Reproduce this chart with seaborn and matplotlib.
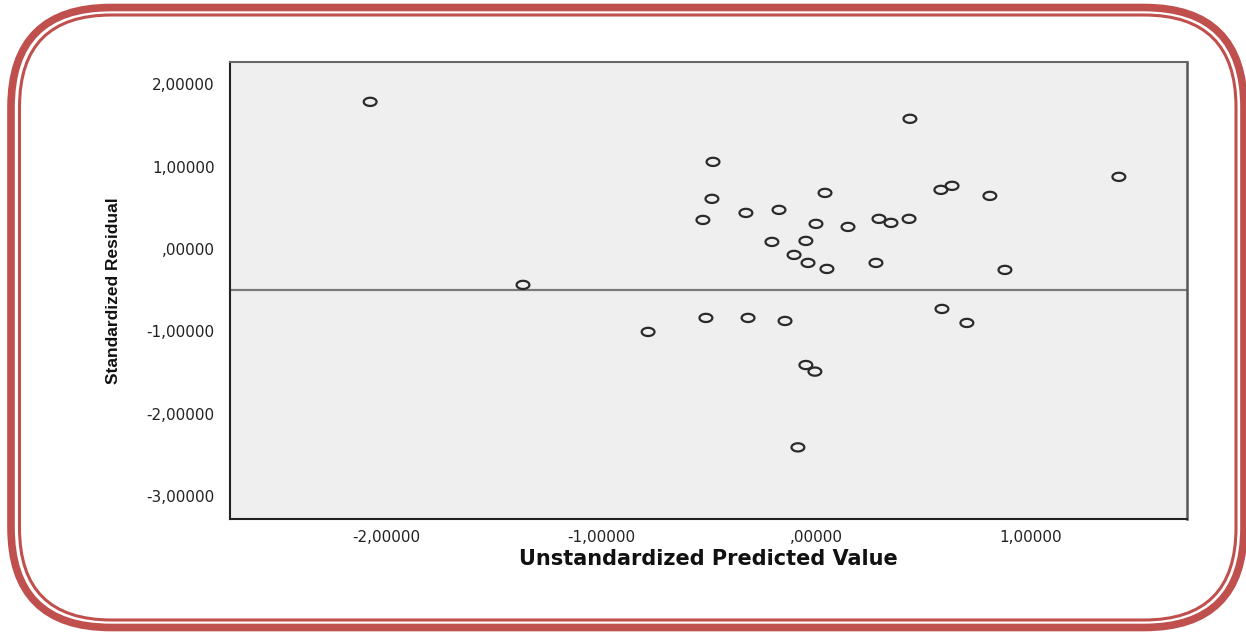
import numpy as np
import pandas as pd
import seaborn as sns
import matplotlib
matplotlib.use("Agg")
import matplotlib.pyplot as plt
from matplotlib.path import Path
from matplotlib.patches import FancyBboxPatch
from matplotlib.transforms import Affine2D

# ---- data ----
predicted = [-2.074, -1.363, -0.781, -0.479, -0.484, -0.526, -0.512, -0.326, -0.316,
             -0.172, -0.205, -0.144, -0.102, -0.047, -0.037, 0.000, 0.042, 0.051,
             -0.047, -0.005, -0.084, 0.149, 0.279, 0.293, 0.349, 0.437, 0.433,
             0.581, 0.633, 0.586, 0.702, 0.809, 0.879, 1.409]
residual = [1.786, -0.437, -1.008, 1.057, 0.608, 0.352, -0.838, 0.437, -0.838,
            0.474, 0.085, -0.875, -0.073, 0.097, -0.170, 0.304, 0.680, -0.243,
            -1.410, -1.490, -2.410, 0.267, -0.170, 0.365, 0.316, 1.580, 0.365,
            0.717, 0.766, -0.729, -0.899, 0.644, -0.255, 0.875]
ref_line = -0.5
x_ticks = [-2, -1, 0, 1]
x_tick_labels = ["-2,00000", "-1,00000", ",00000", "1,00000"]
y_ticks = [2, 1, 0, -1, -2, -3]
y_tick_labels = ["2,00000", "1,00000", ",00000", "-1,00000", "-2,00000", "-3,00000"]
x_label = "Unstandardized Predicted Value"
y_label = "Standardized Residual"

df = pd.DataFrame({"pred": predicted, "resid": residual})

W, H = 1246, 633
sns.set_style("white")
plt.rcParams["font.family"] = ["DejaVu Sans"]

fig = plt.figure(figsize=(W / 100, H / 100), dpi=100)
fig.patch.set_facecolor("white")
ax = fig.add_axes([230 / W, 1 - 519 / H, (1187 - 230) / W, (519 - 62) / H])
ax.set_facecolor("#EFEFEF")

# elliptical open marker
t = np.linspace(0, 2 * np.pi, 60)
ell = Path(np.column_stack([np.cos(t), 0.64 * np.sin(t)]), closed=True)

sns.scatterplot(data=df, x="pred", y="resid", ax=ax, marker=ell, s=85,
                facecolor="none", edgecolor="#2A2A2A", linewidth=1.6, zorder=3)
ax.axhline(ref_line, color="#7A7A7A", lw=1.6, zorder=2)

ax.set_xlim(-2.726, 1.726)
ax.set_ylim(-3.28, 2.27)
ax.set_xticks(x_ticks)
ax.set_xticklabels(x_tick_labels)
ax.set_yticks(y_ticks)
ax.set_yticklabels(y_tick_labels)
ax.tick_params(axis="y", direction="out", length=10, width=1.5, color="#333333",
               pad=1, labelsize=11, labelcolor="#222222")
ax.tick_params(axis="x", direction="out", length=6, width=1.5, color="#333333",
               pad=2, labelsize=11, labelcolor="#222222")
for s in ["left", "bottom"]:
    ax.spines[s].set_color("#222222")
    ax.spines[s].set_linewidth(1.5)
ax.spines["top"].set_color("#666666")
ax.spines["top"].set_linewidth(1.5)
ax.spines["right"].set_color("#555555")
ax.spines["right"].set_linewidth(1.8)

ax.set_xlabel(x_label, fontsize=15, fontweight="bold", labelpad=3, color="#111111")
ax.set_ylabel(y_label, fontsize=12.5, fontweight="bold", fontstretch="condensed",
              family=["Liberation Sans"], labelpad=18, color="#111111")

# rounded double red frame in pixel coordinates
pix = Affine2D().scale(1 / W, 1 / H) + fig.transFigure
red = "#C0504D"
outer = FancyBboxPatch((11, H - 627.5), 1244 - 11, 627.5 - 7.5,
                       boxstyle="round,pad=0,rounding_size=100",
                       transform=pix, fill=False, edgecolor=red, lw=5.5)
inner = FancyBboxPatch((19.5, H - 620), 1236 - 19.5, 620 - 15,
                       boxstyle="round,pad=0,rounding_size=92",
                       transform=pix, fill=False, edgecolor=red, lw=2.2)
fig.patches.extend([outer, inner])

fig.savefig("out.png", dpi=100)
